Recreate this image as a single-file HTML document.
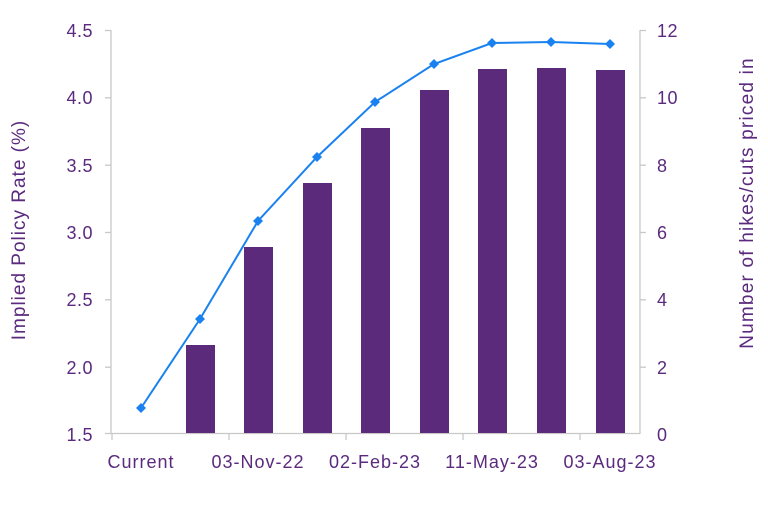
<!DOCTYPE html><html><head><style>body{margin:0;background:#fff}</style></head><body>
<svg width="768" height="505" xmlns="http://www.w3.org/2000/svg" font-family="Liberation Sans, sans-serif" fill="#5b2a7e">
<g stroke="#c8c8c8" stroke-width="1.3" fill="none">
<line x1="105" y1="433.5" x2="640" y2="433.5"/>
<line x1="111" y1="30" x2="111" y2="434"/>
<line x1="640" y1="30" x2="640" y2="434"/>
<line x1="112" y1="434" x2="112" y2="440"/><line x1="229" y1="434" x2="229" y2="440"/><line x1="346" y1="434" x2="346" y2="440"/><line x1="463" y1="434" x2="463" y2="440"/><line x1="580" y1="434" x2="580" y2="440"/>
<line x1="105" y1="30.5" x2="111" y2="30.5"/><line x1="105" y1="97.8" x2="111" y2="97.8"/><line x1="105" y1="165.2" x2="111" y2="165.2"/><line x1="105" y1="232.5" x2="111" y2="232.5"/><line x1="105" y1="299.8" x2="111" y2="299.8"/><line x1="105" y1="367.2" x2="111" y2="367.2"/>
<line x1="640" y1="30.5" x2="646" y2="30.5"/><line x1="640" y1="97.8" x2="646" y2="97.8"/><line x1="640" y1="165.2" x2="646" y2="165.2"/><line x1="640" y1="232.5" x2="646" y2="232.5"/><line x1="640" y1="299.8" x2="646" y2="299.8"/><line x1="640" y1="367.2" x2="646" y2="367.2"/>
</g>
<g fill="#5b2a7b">
<rect x="186" y="345" width="29" height="88"/>
<rect x="244" y="247" width="29" height="186"/>
<rect x="303" y="183" width="29" height="250"/>
<rect x="361" y="128" width="29" height="305"/>
<rect x="420" y="90" width="29" height="343"/>
<rect x="478" y="69" width="29" height="364"/>
<rect x="537" y="68" width="29" height="365"/>
<rect x="596" y="70" width="29" height="363"/>
</g>
<polyline fill="none" stroke="#1a82f0" stroke-width="2" points="141,408 200,319 258,221 317,157 375,102 434,64 492,43 551,42 610,44"/>
<g fill="#1a82f0">
<path d="M141 403l5 5-5 5-5-5z"/><path d="M200 314l5 5-5 5-5-5z"/><path d="M258 216l5 5-5 5-5-5z"/><path d="M317 152l5 5-5 5-5-5z"/><path d="M375 97l5 5-5 5-5-5z"/><path d="M434 59l5 5-5 5-5-5z"/><path d="M492 38l5 5-5 5-5-5z"/><path d="M551 37l5 5-5 5-5-5z"/><path d="M610 39l5 5-5 5-5-5z"/>
</g>
<g font-size="18" text-anchor="end" letter-spacing="0.5">
<text x="93" y="37">4.5</text><text x="93" y="104">4.0</text><text x="93" y="172">3.5</text><text x="93" y="239">3.0</text><text x="93" y="306">2.5</text><text x="93" y="374">2.0</text><text x="93" y="441">1.5</text>
</g>
<g font-size="18" letter-spacing="0.5">
<text x="657" y="37">12</text><text x="657" y="104">10</text><text x="657" y="172">8</text><text x="657" y="239">6</text><text x="657" y="306">4</text><text x="657" y="374">2</text><text x="657" y="441">0</text>
</g>
<g font-size="18" text-anchor="middle" letter-spacing="1">
<text x="141" y="468">Current</text><text x="258" y="468">03-Nov-22</text><text x="375" y="468">02-Feb-23</text><text x="492" y="468">11-May-23</text><text x="610" y="468">03-Aug-23</text>
</g>
<text font-size="19" text-anchor="middle" letter-spacing="1" transform="translate(25,230) rotate(-90)">Implied Policy Rate (%)</text>
<text font-size="19" text-anchor="middle" letter-spacing="1.2" transform="translate(753,203) rotate(-90)">Number of hikes/cuts priced in</text>
</svg></body></html>
